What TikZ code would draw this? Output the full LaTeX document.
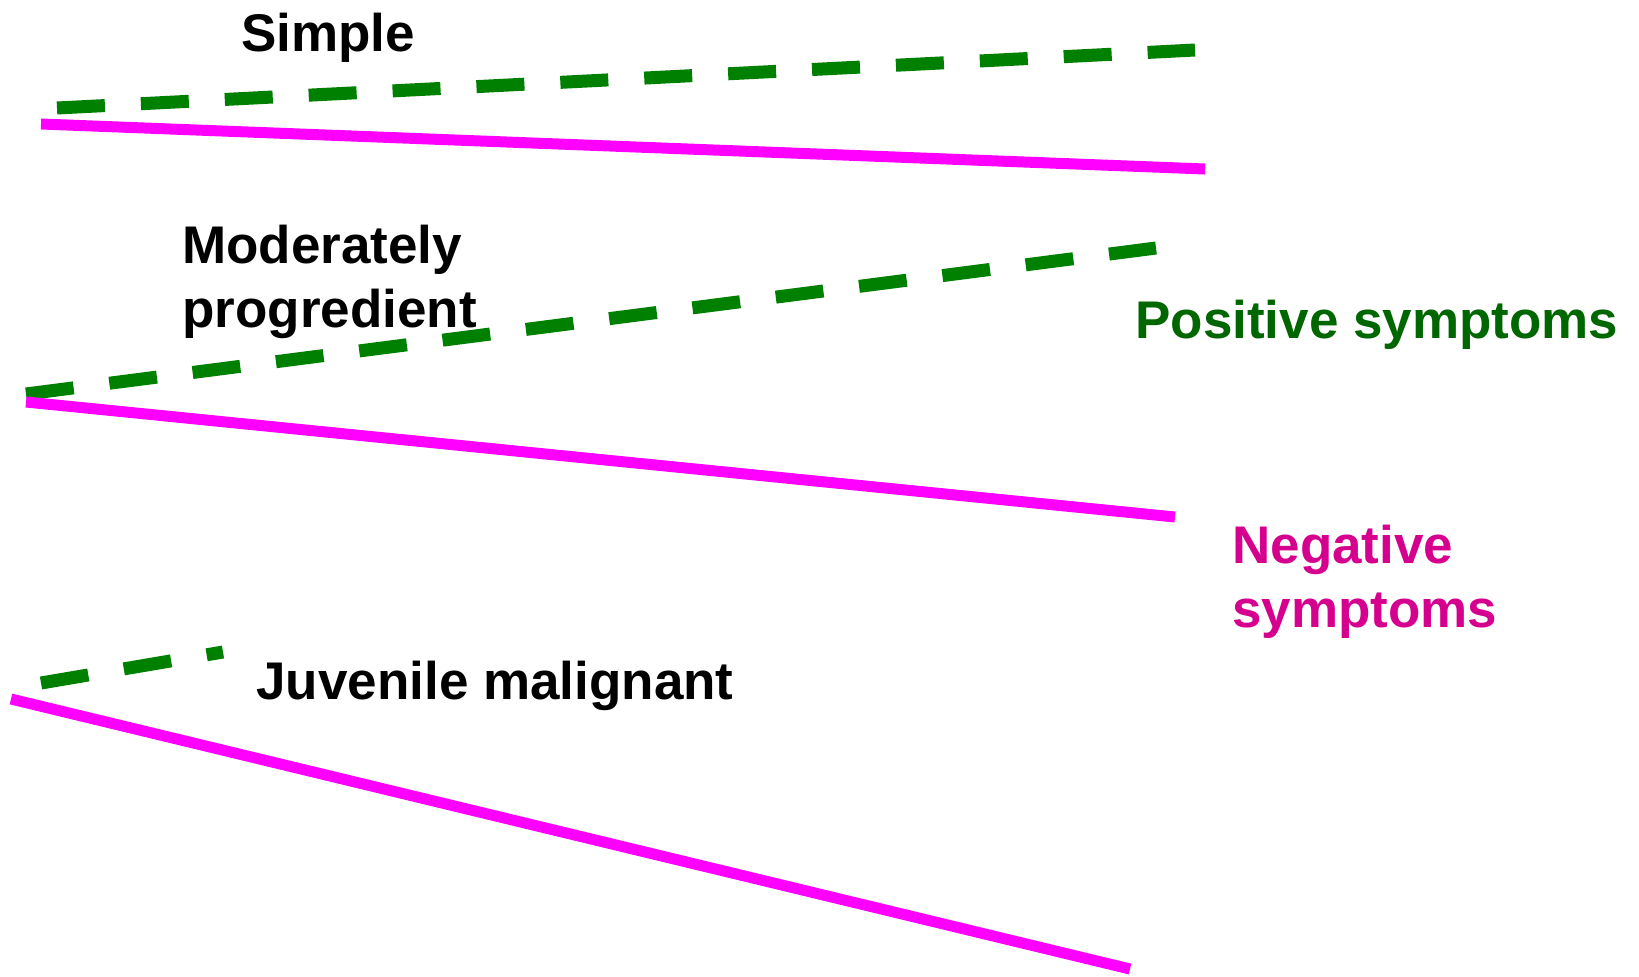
\documentclass[tikz,border=0pt]{standalone}
\usepackage{fontspec}
\setmainfont{Liberation Sans}
\definecolor{posline}{HTML}{008000}
\definecolor{postext}{HTML}{006600}
\definecolor{negline}{HTML}{FF00FF}
\definecolor{negtext}{HTML}{D6008F}
\begin{document}
\begin{tikzpicture}[x=0.5pt, y=-0.5pt,
    positive/.style ={draw=posline, line width=6.5pt, dash pattern=on 24pt off 18pt},
    negative/.style ={draw=negline, line width=5.5pt},
    course/.style ={anchor=base west, inner sep=0pt, align=left,
      font=\bfseries\fontsize{26.5}{32}\selectfont}]
   \useasboundingbox (0,0) rectangle (1639,976);
   % simple
   \coordinate (P1) at (57,108);
   \coordinate (Q1) at (1195,50);
   \coordinate (N1) at (41,124);
   \coordinate (M1) at (1205,169);
   % moderately progredient
   \coordinate (P2) at (26,394);
   \coordinate (Q2) at (1156,248);
   \coordinate (N2) at (26,402);
   \coordinate (M2) at (1175,517);
   % juvenile malignant
   \coordinate (P3) at (41,683);
   \coordinate (Q3) at (223,652);
   \coordinate (N3) at (11,699);
   \coordinate (M3) at (1130,969);
   \draw[positive] (P1) to (Q1);
   \draw[negative] (N1) to (M1);
   \draw[positive] (P2) to (Q2);
   \draw[negative] (N2) to (M2);
   \draw[positive] (P3) to (Q3);
   \draw[negative] (N3) to (M3);
   \node[course] (simple) at (241,51) {Simple};
   \node[course] (moderate) at (182,327) {Moderately\\progredient};
   \node[course] (juvenile) at (256,699) {Juvenile malignant};
   \node[course, text=postext] (positive) at (1135,338) {Positive symptoms};
   \node[course, text=negtext] (negative) at (1232,627) {Negative\\symptoms};
 \end{tikzpicture}
\end{document}
